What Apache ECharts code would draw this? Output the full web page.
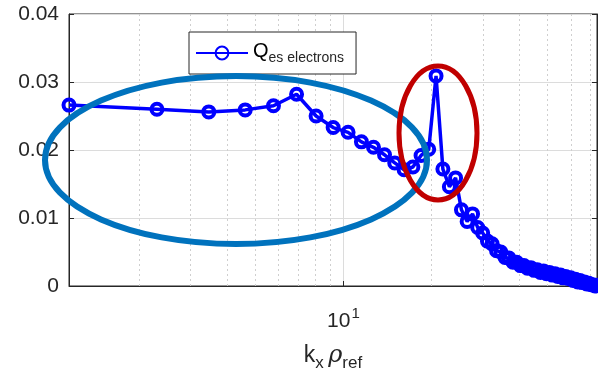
<!DOCTYPE html>
<html>
<head>
<meta charset="utf-8">
<script src="https://cdn.jsdelivr.net/npm/echarts@6/dist/echarts.min.js"></script>
<style>
  html, body { margin: 0; padding: 0; background: #fff; }
  #chart_qes { width: 598px; height: 379px; }
</style>
</head>
<body>
<div id="chart_qes"></div>
<script>
  // k_x rho_ref values (x, log axis)
  var kx = [1.15, 2.30, 3.46, 4.61, 5.76, 6.91, 8.06, 9.22, 10.37, 11.52,
    12.67, 13.82, 14.98, 16.13, 17.28, 18.43, 19.58, 20.74, 21.89, 23.04,
    24.19, 25.34, 26.50, 27.65, 28.80, 29.95, 31.10, 32.26, 33.41, 34.56,
    35.71, 36.86, 38.02, 39.17, 40.32, 41.47, 42.62, 43.78, 44.93, 46.08,
    47.23, 48.38, 49.54, 50.69, 51.84, 52.99, 54.14, 55.30, 56.45, 57.60,
    58.75, 59.90, 61.06, 62.21, 63.36, 64.51, 65.66, 66.82, 67.97, 69.12,
    70.27, 71.42, 72.58, 73.73];
  // Q es electrons
  var qes = [0.0266, 0.0260, 0.0256, 0.0259, 0.0265, 0.0282, 0.0250, 0.0233, 0.0226, 0.0212,
    0.0204, 0.0193, 0.0181, 0.0171, 0.0175, 0.0192, 0.0201, 0.0309, 0.0172, 0.0146,
    0.0159, 0.0112, 0.0095, 0.0106, 0.0086, 0.0078, 0.0066, 0.0062, 0.0052, 0.0050,
    0.0042, 0.0041, 0.0035, 0.0035, 0.0030, 0.0030, 0.0026, 0.0027, 0.0023, 0.0024,
    0.0020, 0.0022, 0.0018, 0.0020, 0.0016, 0.0018, 0.0014, 0.0016, 0.0012, 0.0014,
    0.0011, 0.0012, 0.0008, 0.0010, 0.0006, 0.0008, 0.0005, 0.0006, 0.0003, 0.0004,
    0.0002, 0.0002, 0.0000, 0.0001];
  // minor grid positions on the log axis
  var minorX = [2, 3, 4, 5, 6, 7, 8, 9, 20, 30, 40, 50, 60, 70];
  var yMin = 0, yMax = 0.04, yStep = 0.01;
  var xMin = 1.15, xMax = 73.73;

  var textColor = '#262626';
  var myChart = echarts.init(document.getElementById('chart_qes'));
  var option = {
    backgroundColor: '#fff',
    animation: false,
    textStyle: { fontFamily: 'Liberation Sans, Arial, sans-serif' },
    grid: {
      left: 69, right: 1, top: 14, bottom: 93,
      show: true, borderColor: textColor, borderWidth: 1, backgroundColor: 'transparent'
    },
    legend: {
      left: 189, top: 32,
      padding: [9, 12, 9, 6],
      borderColor: textColor, borderWidth: 1,
      backgroundColor: '#fff',
      itemWidth: 52, itemHeight: 16, itemGap: 4,
      formatter: function () { return '{q|Q}{s|es electrons}'; },
      textStyle: {
        color: textColor,
        rich: {
          q: { fontSize: 20, color: '#000', verticalAlign: 'top', fontFamily: 'Liberation Sans' },
          s: { fontSize: 14, color: textColor, verticalAlign: 'top', padding: [10, 0, 0, 0], fontFamily: 'Liberation Sans' }
        }
      }
    },
    xAxis: {
      type: 'log',
      logBase: 10,
      min: xMin, max: xMax,
      name: '{k|k}{sub|x}{sp| }{r|ρ}{sub|ref}',
      nameLocation: 'middle',
      nameGap: 58,
      nameTextStyle: {
        color: textColor,
        rich: {
          k: { fontSize: 23, color: textColor, verticalAlign: 'top', fontFamily: 'Liberation Sans' },
          sp: { fontSize: 16, verticalAlign: 'top' },
          r: { fontSize: 24, color: textColor, fontStyle: 'italic', verticalAlign: 'top', fontFamily: 'DejaVu Serif' },
          sub: { fontSize: 17, color: textColor, verticalAlign: 'top', padding: [11, 0, 0, 0], fontFamily: 'Liberation Sans' }
        }
      },
      axisLine: { show: true, lineStyle: { color: textColor } },
      axisTick: { show: true, inside: true, length: 5, lineStyle: { color: textColor } },
      axisLabel: {
        margin: 20,
        showMinLabel: false, showMaxLabel: false,
        formatter: function (v) {
          return Math.abs(v - 10) < 1e-6 ? '{b|10}{s|1}' : '';
        },
        rich: {
          b: { fontSize: 21, color: textColor, verticalAlign: 'bottom', fontFamily: 'Liberation Sans' },
          s: { fontSize: 15, color: textColor, verticalAlign: 'bottom', padding: [0, 0, 11, 1], fontFamily: 'Liberation Sans' }
        }
      },
      splitLine: { show: true, lineStyle: { color: '#dcdcdc' } }
    },
    yAxis: [{
      type: 'value',
      min: yMin, max: yMax, interval: yStep,
      axisLine: { show: true, lineStyle: { color: textColor } },
      axisTick: { show: true, inside: true, length: 5, lineStyle: { color: textColor } },
      axisLabel: {
        color: textColor, fontSize: 21, margin: 10,
        formatter: function (v) { return v === 0 ? '0' : v.toFixed(2); }
      },
      splitLine: { show: true, lineStyle: { color: '#dcdcdc' } }
    }, {
      type: 'value', position: 'right',
      min: yMin, max: yMax, interval: yStep,
      axisLine: { show: true, lineStyle: { color: textColor } },
      axisTick: { show: true, inside: true, length: 5, lineStyle: { color: textColor } },
      axisLabel: { show: false },
      splitLine: { show: false }
    }],
    series: [{
      name: 'Qes electrons',
      type: 'line',
      data: kx.map(function (k, i) { return [k, qes[i]]; }),
      symbol: 'circle',
      symbolSize: 11,
      showAllSymbol: true,
      clip: false,
      lineStyle: { color: '#0000ff', width: 3.5 },
      itemStyle: { color: 'rgba(255,255,255,0)', borderColor: '#0000ff', borderWidth: 4 },
      z: 5,
      markLine: {
        silent: true,
        symbol: 'none',
        label: { show: false },
        lineStyle: { color: '#cfcfcf', type: [2, 3], width: 1 },
        data: minorX.map(function (v) { return { xAxis: v }; }),
        z: 1
      }
    }],
    graphic: [
      {
        type: 'ellipse', z: 100,
        shape: { cx: 236, cy: 160, rx: 191, ry: 84 },
        style: { fill: 'none', stroke: '#0072bd', lineWidth: 6 }
      },
      {
        type: 'ellipse', z: 100,
        shape: { cx: 438, cy: 133, rx: 39, ry: 67 },
        style: { fill: 'none', stroke: '#c00000', lineWidth: 5 }
      }
    ]
  };
  myChart.setOption(option);
  window.addEventListener('resize', function () { myChart.resize(); });
</script>
</body>
</html>
